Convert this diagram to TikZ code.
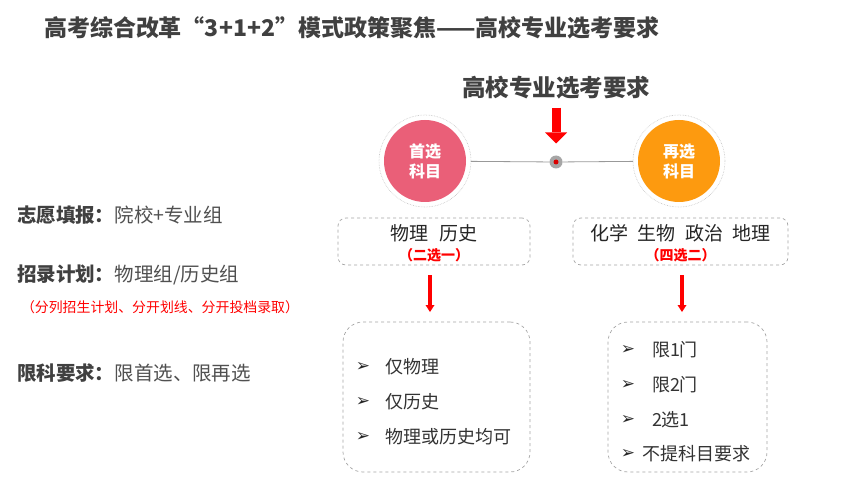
\documentclass[tikz,border=0pt]{standalone}
\usepackage{fontspec}
\setmainfont{Noto Sans CJK SC}
\newfontfamily\dejavu{DejaVu Sans}
\usetikzlibrary{arrows.meta}
\definecolor{txt}{HTML}{404040}
\definecolor{txtl}{HTML}{505050}
\definecolor{pinkc}{HTML}{EA5F78}
\definecolor{orangec}{HTML}{FD9A0F}
\definecolor{redc}{HTML}{FF0000}
\definecolor{boxg}{HTML}{A6A6A6}
\definecolor{ringg}{HTML}{C4C4C4}
\begin{document}
\begin{tikzpicture}[x=1pt,y=-1pt,
  every node/.style={inner sep=0pt,outer sep=0pt},
  ring/.style={circle,draw=ringg,densely dotted,line width=0.6pt,minimum size=92pt},
  disc/.style={circle,minimum size=82pt,text=white,align=center,font=\fontsize{16}{20}\selectfont\bfseries},
  dbox/.style={draw=boxg,dashed,line width=0.7pt,rounded corners=8pt},
  lbox/.style={draw=boxg,dashed,line width=0.7pt,rounded corners=20pt,minimum height=150pt},
  subj/.style={font=\fontsize{19}{22}\selectfont,text=black!85},
  pick/.style={font=\fontsize{14}{16}\selectfont\bfseries,text=redc},
  bul/.style={font=\dejavu\fontsize{17}{18}\selectfont,text=black!85},
  itm/.style={anchor=west,font=\fontsize{18}{20}\selectfont,text=black!80},
  lefttxt/.style={anchor=west,font=\fontsize{19.5}{22}\selectfont,text=txtl},
  bigarrow/.style={redc,line width=9pt,-{Triangle[length=11pt 0,width=22pt 0,line width=0pt]}},
  smallarrow/.style={redc,line width=3.5pt,-{Triangle[length=7pt 0,width=9pt 0,line width=0pt]}}
]
\useasboundingbox[fill=white] (0,0) rectangle (860,484);

% title
\node[anchor=west,font=\fontsize{23}{26}\selectfont\bfseries,text=txt] (title) at (44,28)
  {高考综合改革“3+1+2”模式政策聚焦——高校专业选考要求};

% subtitle
\node[font=\fontsize{23.5}{26}\selectfont\bfseries,text=txt] (sub) at (556,88) {高校专业选考要求};

% circles
\node[ring] (ring1) at (425,161) {};
\node[disc,fill=pinkc] (disc1) at (ring1) {首选\\科目};
\node[ring] (ring2) at (679,161) {};
\node[disc,fill=orangec] (disc2) at (ring2) {再选\\科目};

% connecting line and dot
\node[circle,fill=black!35,minimum size=13pt] (dot) at (556,162) {};
\draw[black!40,line width=0.8pt] (ring1) -- (dot);
\draw[black!40,line width=0.8pt] (dot) -- (ring2);
\node[circle,fill=redc!85!black,minimum size=5pt] (dotc) at (dot) {};

% big arrow
\draw[bigarrow] ([yshift=-8pt]sub.south) -- ([yshift=12pt]dot.north);

% subject boxes
\node[dbox,minimum width=192pt,minimum height=47pt] (box1) at (434,241.5) {};
\node[subj] (s1) at (434,233) {物理\hspace{0.6em}历史};
\node[pick] (p1) at (434,255) {（二选一）};
\node[dbox,minimum width=215pt,minimum height=47pt] (box2) at (680.5,241.5) {};
\node[subj] (s2) at (680.5,233) {化学\hspace{0.5em}生物\hspace{0.5em}政治\hspace{0.5em}地理};
\node[pick] (p2) at (680.5,255) {（四选二）};

% list boxes
\node[lbox,minimum width=187pt] (list1) at (436.5,397) {};
\node[lbox,minimum width=159pt] (list2) at (687.5,397) {};

% small arrows
\draw[smallarrow] ([xshift=-4pt,yshift=-10pt]box1.south) -- ([xshift=-6.5pt,yshift=10pt]list1.north);
\draw[smallarrow] ([xshift=1.5pt,yshift=-10pt]box2.south) -- ([xshift=-5.5pt,yshift=10pt]list2.north);

% list 1 items
\node[bul] (b11) at (363,367) {➢};
\node[itm] (i11) at (385,367) {仅物理};
\node[bul] (b12) at (363,402) {➢};
\node[itm] (i12) at (385,402) {仅历史};
\node[bul] (b13) at (363,437) {➢};
\node[itm] (i13) at (385,437) {物理或历史均可};

% list 2 items
\node[bul] (b21) at (628,350) {➢};
\node[itm] (i21) at (652,350) {限1门};
\node[bul] (b22) at (628,385) {➢};
\node[itm] (i22) at (652,385) {限2门};
\node[bul] (b23) at (628,420) {➢};
\node[itm] (i23) at (652,420) {2选1};
\node[bul] (b24) at (628,454) {➢};
\node[itm] (i24) at (642,454) {不提科目要求};

% left texts
\node[lefttxt] (l1) at (17,215) {{\bfseries\color{txt}志愿填报：}院校+专业组};
\node[lefttxt] (l2) at (17,275) {{\bfseries\color{txt}招录计划：}物理组/历史组};
\node[anchor=west,font=\fontsize{13.9}{15}\selectfont,text=redc] (l2r) at (21,307)
  {（分列招生计划、分开划线、分开投档录取）};
\node[lefttxt] (l3) at (17,373) {{\bfseries\color{txt}限科要求：}限首选、限再选};
\end{tikzpicture}
\end{document}
